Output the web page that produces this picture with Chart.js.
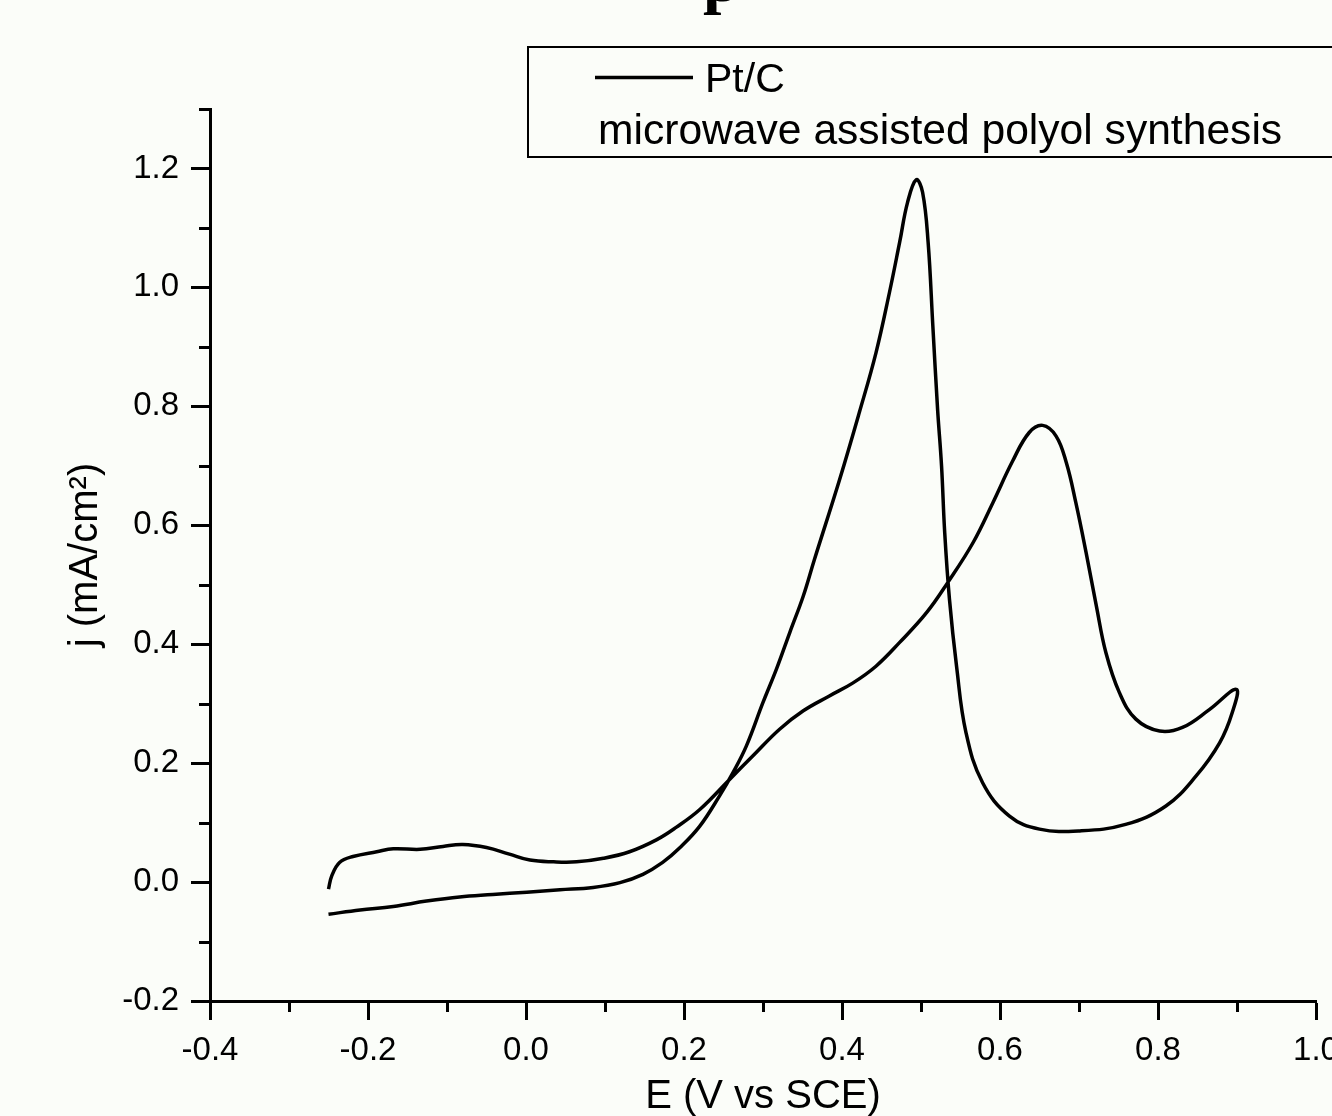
<!DOCTYPE html>
<html><head><meta charset="utf-8">
<script src="https://cdn.jsdelivr.net/npm/chart.js@4.4.1/dist/chart.umd.min.js"></script>
<style>
html,body{margin:0;padding:0;background:#fbfdf9;overflow:hidden;}
#wrap{position:relative;width:1332px;height:1116px;overflow:hidden;background:#fbfdf9;}
canvas{position:absolute;left:0;top:0;}
</style></head><body>
<div id="wrap"><canvas id="c" width="1360" height="1140"></canvas></div>
<script>
const seriesLabel = 'Pt/C';
const legendNote = 'microwave assisted polyol synthesis';
const titleText = 'p';
const xAxisTitle = 'E (V vs SCE)';
const yAxisTitle = 'j (mA/cm\u00B2)';
const xMajorTicks = [-0.4, -0.2, 0.0, 0.2, 0.4, 0.6, 0.8, 1.0];
const xMinorTicks = [-0.3, -0.1, 0.1, 0.3, 0.5, 0.7, 0.9];
const yMajorTicks = [-0.2, 0.0, 0.2, 0.4, 0.6, 0.8, 1.0, 1.2];
const yMinorTicks = [-0.1, 0.1, 0.3, 0.5, 0.7, 0.9, 1.1, 1.3];

// forward (anodic) scan
const forwardE = [-0.250,-0.246,-0.236,-0.219,-0.189,-0.168,-0.134,-0.105,-0.080,-0.050,-0.021,0.005,0.035,0.064,0.098,0.131,0.165,0.190,0.220,0.258,0.287,0.321,0.351,0.384,0.414,0.443,0.473,0.507,0.534,0.566,0.591,0.616,0.637,0.654,0.671,0.684,0.696,0.709,0.722,0.734,0.751,0.772,0.802,0.831,0.865,0.899];
const forwardJ = [-0.012,0.010,0.033,0.043,0.051,0.056,0.055,0.060,0.063,0.058,0.047,0.037,0.034,0.034,0.040,0.051,0.071,0.092,0.122,0.173,0.212,0.257,0.288,0.313,0.335,0.363,0.403,0.453,0.504,0.571,0.638,0.708,0.756,0.768,0.750,0.705,0.638,0.554,0.464,0.386,0.319,0.274,0.254,0.260,0.290,0.324];
// reverse (cathodic) scan
const reverseE = [0.894,0.878,0.848,0.810,0.759,0.701,0.650,0.612,0.578,0.557,0.545,0.536,0.530,0.526,0.521,0.515,0.509,0.502,0.494,0.483,0.473,0.460,0.443,0.422,0.397,0.365,0.351,0.334,0.317,0.300,0.279,0.262,0.245,0.220,0.195,0.173,0.148,0.119,0.085,0.043,0.001,-0.042,-0.084,-0.126,-0.168,-0.210,-0.250];
const reverseJ = [0.285,0.234,0.178,0.128,0.097,0.086,0.089,0.111,0.167,0.251,0.363,0.476,0.588,0.700,0.795,0.935,1.076,1.160,1.181,1.143,1.076,0.991,0.890,0.790,0.677,0.542,0.481,0.420,0.358,0.302,0.229,0.184,0.145,0.094,0.058,0.033,0.013,-0.001,-0.009,-0.013,-0.017,-0.021,-0.025,-0.032,-0.041,-0.047,-0.054];

const points = forwardE.map((e, i) => ({x: e, y: forwardJ[i]}))
  .concat(reverseE.map((e, i) => ({x: e, y: reverseJ[i]})));

const SANS = "'Liberation Sans', Arial, Helvetica, sans-serif";
Chart.defaults.font.family = SANS;
Chart.defaults.color = '#000';

const minorTickPlugin = {
  id: 'minorTicks',
  afterDraw(chart) {
    const ctx = chart.ctx, xs = chart.scales.x, ys = chart.scales.y;
    const a = chart.chartArea;
    ctx.save();
    ctx.strokeStyle = '#000';
    ctx.lineWidth = 3;
    ctx.beginPath();
    xMinorTicks.forEach(v => {
      const px = Math.round(xs.getPixelForValue(v)) + 0.5;
      ctx.moveTo(px, a.bottom);
      ctx.lineTo(px, a.bottom + 11);
    });
    yMinorTicks.forEach(v => {
      const py = Math.round(ys.getPixelForValue(v)) + 0.5;
      ctx.moveTo(a.left, py);
      ctx.lineTo(a.left - 11, py);
    });
    ctx.stroke();
    ctx.restore();
  }
};

const legendBoxPlugin = {
  id: 'legendBox',
  afterDraw(chart) {
    const ctx = chart.ctx;
    ctx.save();
    ctx.fillStyle = '#fbfdf9';
    ctx.fillRect(528, 47, 900, 110);
    ctx.strokeStyle = '#000';
    ctx.lineWidth = 2;
    ctx.strokeRect(528, 47, 900, 110);
    ctx.lineWidth = 3.5;
    ctx.beginPath();
    ctx.moveTo(595, 77.5);
    ctx.lineTo(693, 77.5);
    ctx.stroke();
    ctx.fillStyle = '#000';
    ctx.textBaseline = 'alphabetic';
    ctx.textAlign = 'left';
    ctx.font = '41px ' + SANS;
    ctx.fillText(chart.data.datasets[0].label, 705, 92);
    ctx.font = '42.6px ' + SANS;
    ctx.fillText(legendNote, 598, 144);
    ctx.font = "bold 66px 'Liberation Serif', 'Times New Roman', serif";
    ctx.fillText(titleText, 703, 0.5);
    ctx.restore();
  }
};

new Chart(document.getElementById('c'), {
  type: 'scatter',
  data: {
    datasets: [{
      label: seriesLabel,
      data: points,
      showLine: true,
      borderColor: '#000',
      backgroundColor: '#000',
      borderWidth: 3.5,
      pointRadius: 0,
      tension: 0.4,
      fill: false
    }]
  },
  options: {
    responsive: false,
    animation: false,
    devicePixelRatio: 1,
    layout: {padding: {top: 109, right: 44, bottom: 0, left: 0}},
    plugins: {
      legend: {display: false},
      title: {display: false},
      tooltip: {enabled: false}
    },
    scales: {
      x: {
        type: 'linear',
        min: -0.4, max: 1.0,
        afterBuildTicks: s => { s.ticks = xMajorTicks.map(v => ({value: v})); },
        afterFit: s => { s.height = 139; },
        ticks: {
          callback: v => Number(v).toFixed(1),
          font: {size: 33}, color: '#000', padding: 11,
          maxRotation: 0, autoSkip: false
        },
        grid: {drawOnChartArea: false, drawTicks: true, tickLength: 19, tickWidth: 3, tickColor: '#000'},
        border: {display: true, color: '#000', width: 3},
        title: {display: true, text: xAxisTitle, font: {size: 40}, color: '#000', padding: {top: 0, bottom: 19}}
      },
      y: {
        type: 'linear',
        min: -0.2, max: 1.3,
        afterBuildTicks: s => { s.ticks = yMajorTicks.map(v => ({value: v})); },
        afterFit: s => { s.width = 210; },
        ticks: {
          callback: v => Number(v).toFixed(1),
          font: {size: 33}, color: '#000', padding: 12
        },
        grid: {drawOnChartArea: false, drawTicks: true, tickLength: 19, tickWidth: 3, tickColor: '#000'},
        border: {display: true, color: '#000', width: 3},
        title: {display: true, text: yAxisTitle, font: {size: 40}, color: '#000', padding: {top: 62, bottom: 0}}
      }
    }
  },
  plugins: [minorTickPlugin, legendBoxPlugin]
});
</script>
</body></html>
